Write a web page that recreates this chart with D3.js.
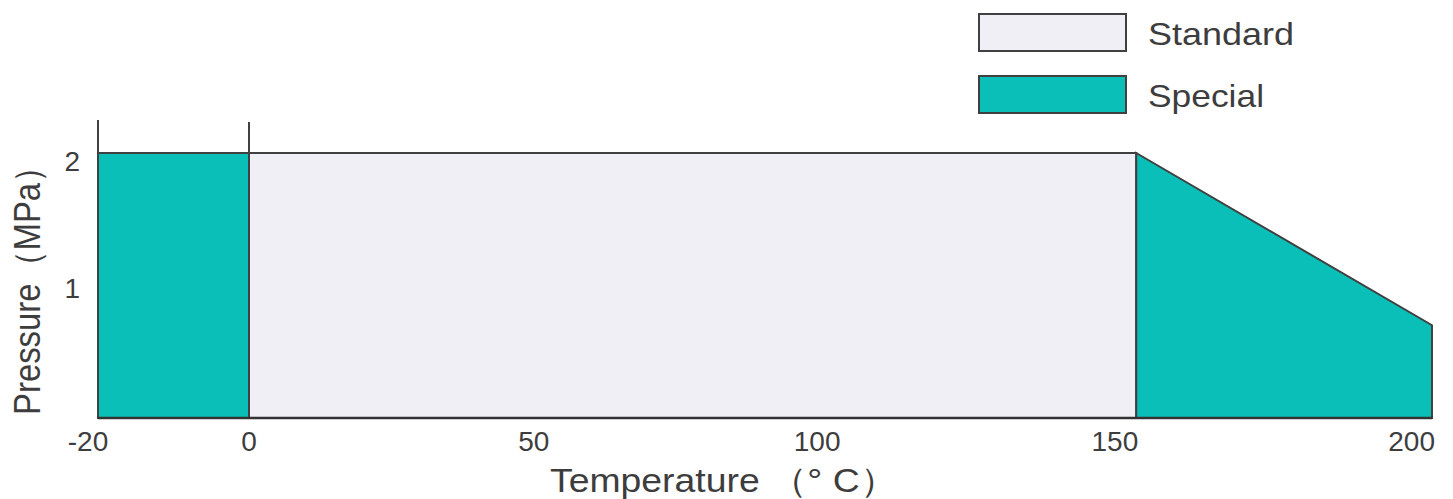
<!DOCTYPE html>
<html>
<head>
<meta charset="utf-8">
<script src="https://cdn.jsdelivr.net/npm/d3@7"></script>
<style>
  html, body { margin: 0; padding: 0; background: #ffffff; }
  svg { display: block; }
  text { font-family: "Liberation Sans", Arial, Helvetica, sans-serif; fill: #3d3d3d; }
</style>
</head>
<body>
<svg id="chart" width="1453" height="499"></svg>
<script>
// ---- data ----
const specialLowTemp = [-20, 0];
const specialLowPressure = [2, 2];
const standardTemp = [0, 150];
const standardPressure = [2, 2];
const specialHighTemp = [150, 200];
const specialHighPressure = [2, 0.7];
const xTickValues = [-20, 0, 50, 100, 150, 200];
const yTickValues = [1, 2];
const legendLabels = ["Standard", "Special"];

const colStandard = "#efeff5";
const colSpecial = "#0abfb8";
const colStroke = "#404040";

const svg = d3.select("#chart");

// schematic (piecewise) temperature scale
const x = d3.scaleLinear().domain([-20, 0, 200]).range([98, 249, 1432]);
const y = d3.scaleLinear().domain([0, 2]).range([418, 153]);

const area = d3.area()
  .x(d => x(d[0]))
  .y0(y(0))
  .y1(d => y(d[1]));

function region(temps, press, fill) {
  const pts = d3.zip(temps, press);
  svg.append("path")
    .datum(pts)
    .attr("d", d => area(d))
    .attr("fill", fill)
    .attr("stroke", colStroke)
    .attr("stroke-width", 2)
    .attr("stroke-linejoin", "miter");
}

region(standardTemp, standardPressure, colStandard);
region(specialLowTemp, specialLowPressure, colSpecial);
region(specialHighTemp, specialHighPressure, colSpecial);

// vertical tick extensions above the top at -20 and 0
svg.selectAll("line.ext")
  .data([-20, 0])
  .enter().append("line")
  .attr("class", "ext")
  .attr("x1", d => x(d)).attr("x2", d => x(d))
  .attr("y1", (d, i) => y(2) - (i === 0 ? 33 : 31))
  .attr("y2", y(2))
  .attr("stroke", colStroke)
  .attr("stroke-width", 2);

// bottom baseline
svg.append("line")
  .attr("x1", x(-20)).attr("x2", x(200))
  .attr("y1", y(0)).attr("y2", y(0))
  .attr("stroke", "#333")
  .attr("stroke-width", 2.5);

// x tick labels
const xAnchor = { "-20": ["middle", -10], "0": ["middle", 0], "50": ["middle", -11], "100": ["end", 0], "150": ["end", 2], "200": ["end", 3] };
svg.selectAll("text.xt")
  .data(xTickValues)
  .enter().append("text")
  .attr("class", "xt")
  .attr("x", d => x(d) + xAnchor[d][1])
  .attr("y", 451)
  .attr("text-anchor", d => xAnchor[d][0])
  .attr("font-size", 28)
  .text(d => d);

// y tick labels
svg.selectAll("text.yt")
  .data(yTickValues)
  .enter().append("text")
  .attr("class", "yt")
  .attr("x", 80)
  .attr("y", d => y(d) + (d === 2 ? 8.5 : 3))
  .attr("dy", "0.35em")
  .attr("text-anchor", "end")
  .attr("font-size", 28)
  .text(d => d);

// axis titles
svg.append("text")
  .attr("x", 550).attr("y", 492)
  .attr("font-size", 34)
  .attr("textLength", 347)
  .attr("lengthAdjust", "spacingAndGlyphs")
  .text("Temperature （° C）");

svg.append("text")
  .attr("transform", "translate(40,282.5) rotate(-90)")
  .attr("text-anchor", "middle")
  .attr("font-size", 36)
  .attr("textLength", 265)
  .attr("lengthAdjust", "spacingAndGlyphs")
  .text("Pressure（MPa）");

// legend
const legendWidths = [146, 116];
const legend = svg.append("g");
legendLabels.forEach((lab, i) => {
  const yy = 14 + i * 62;
  legend.append("rect")
    .attr("x", 979).attr("y", yy)
    .attr("width", 147).attr("height", 37)
    .attr("fill", i === 0 ? colStandard : colSpecial)
    .attr("stroke", colStroke)
    .attr("stroke-width", 2);
  legend.append("text")
    .attr("x", 1148).attr("y", yy + 31)
    .attr("font-size", 32)
    .attr("textLength", legendWidths[i])
    .attr("lengthAdjust", "spacingAndGlyphs")
    .text(lab);
});
</script>
</body>
</html>
